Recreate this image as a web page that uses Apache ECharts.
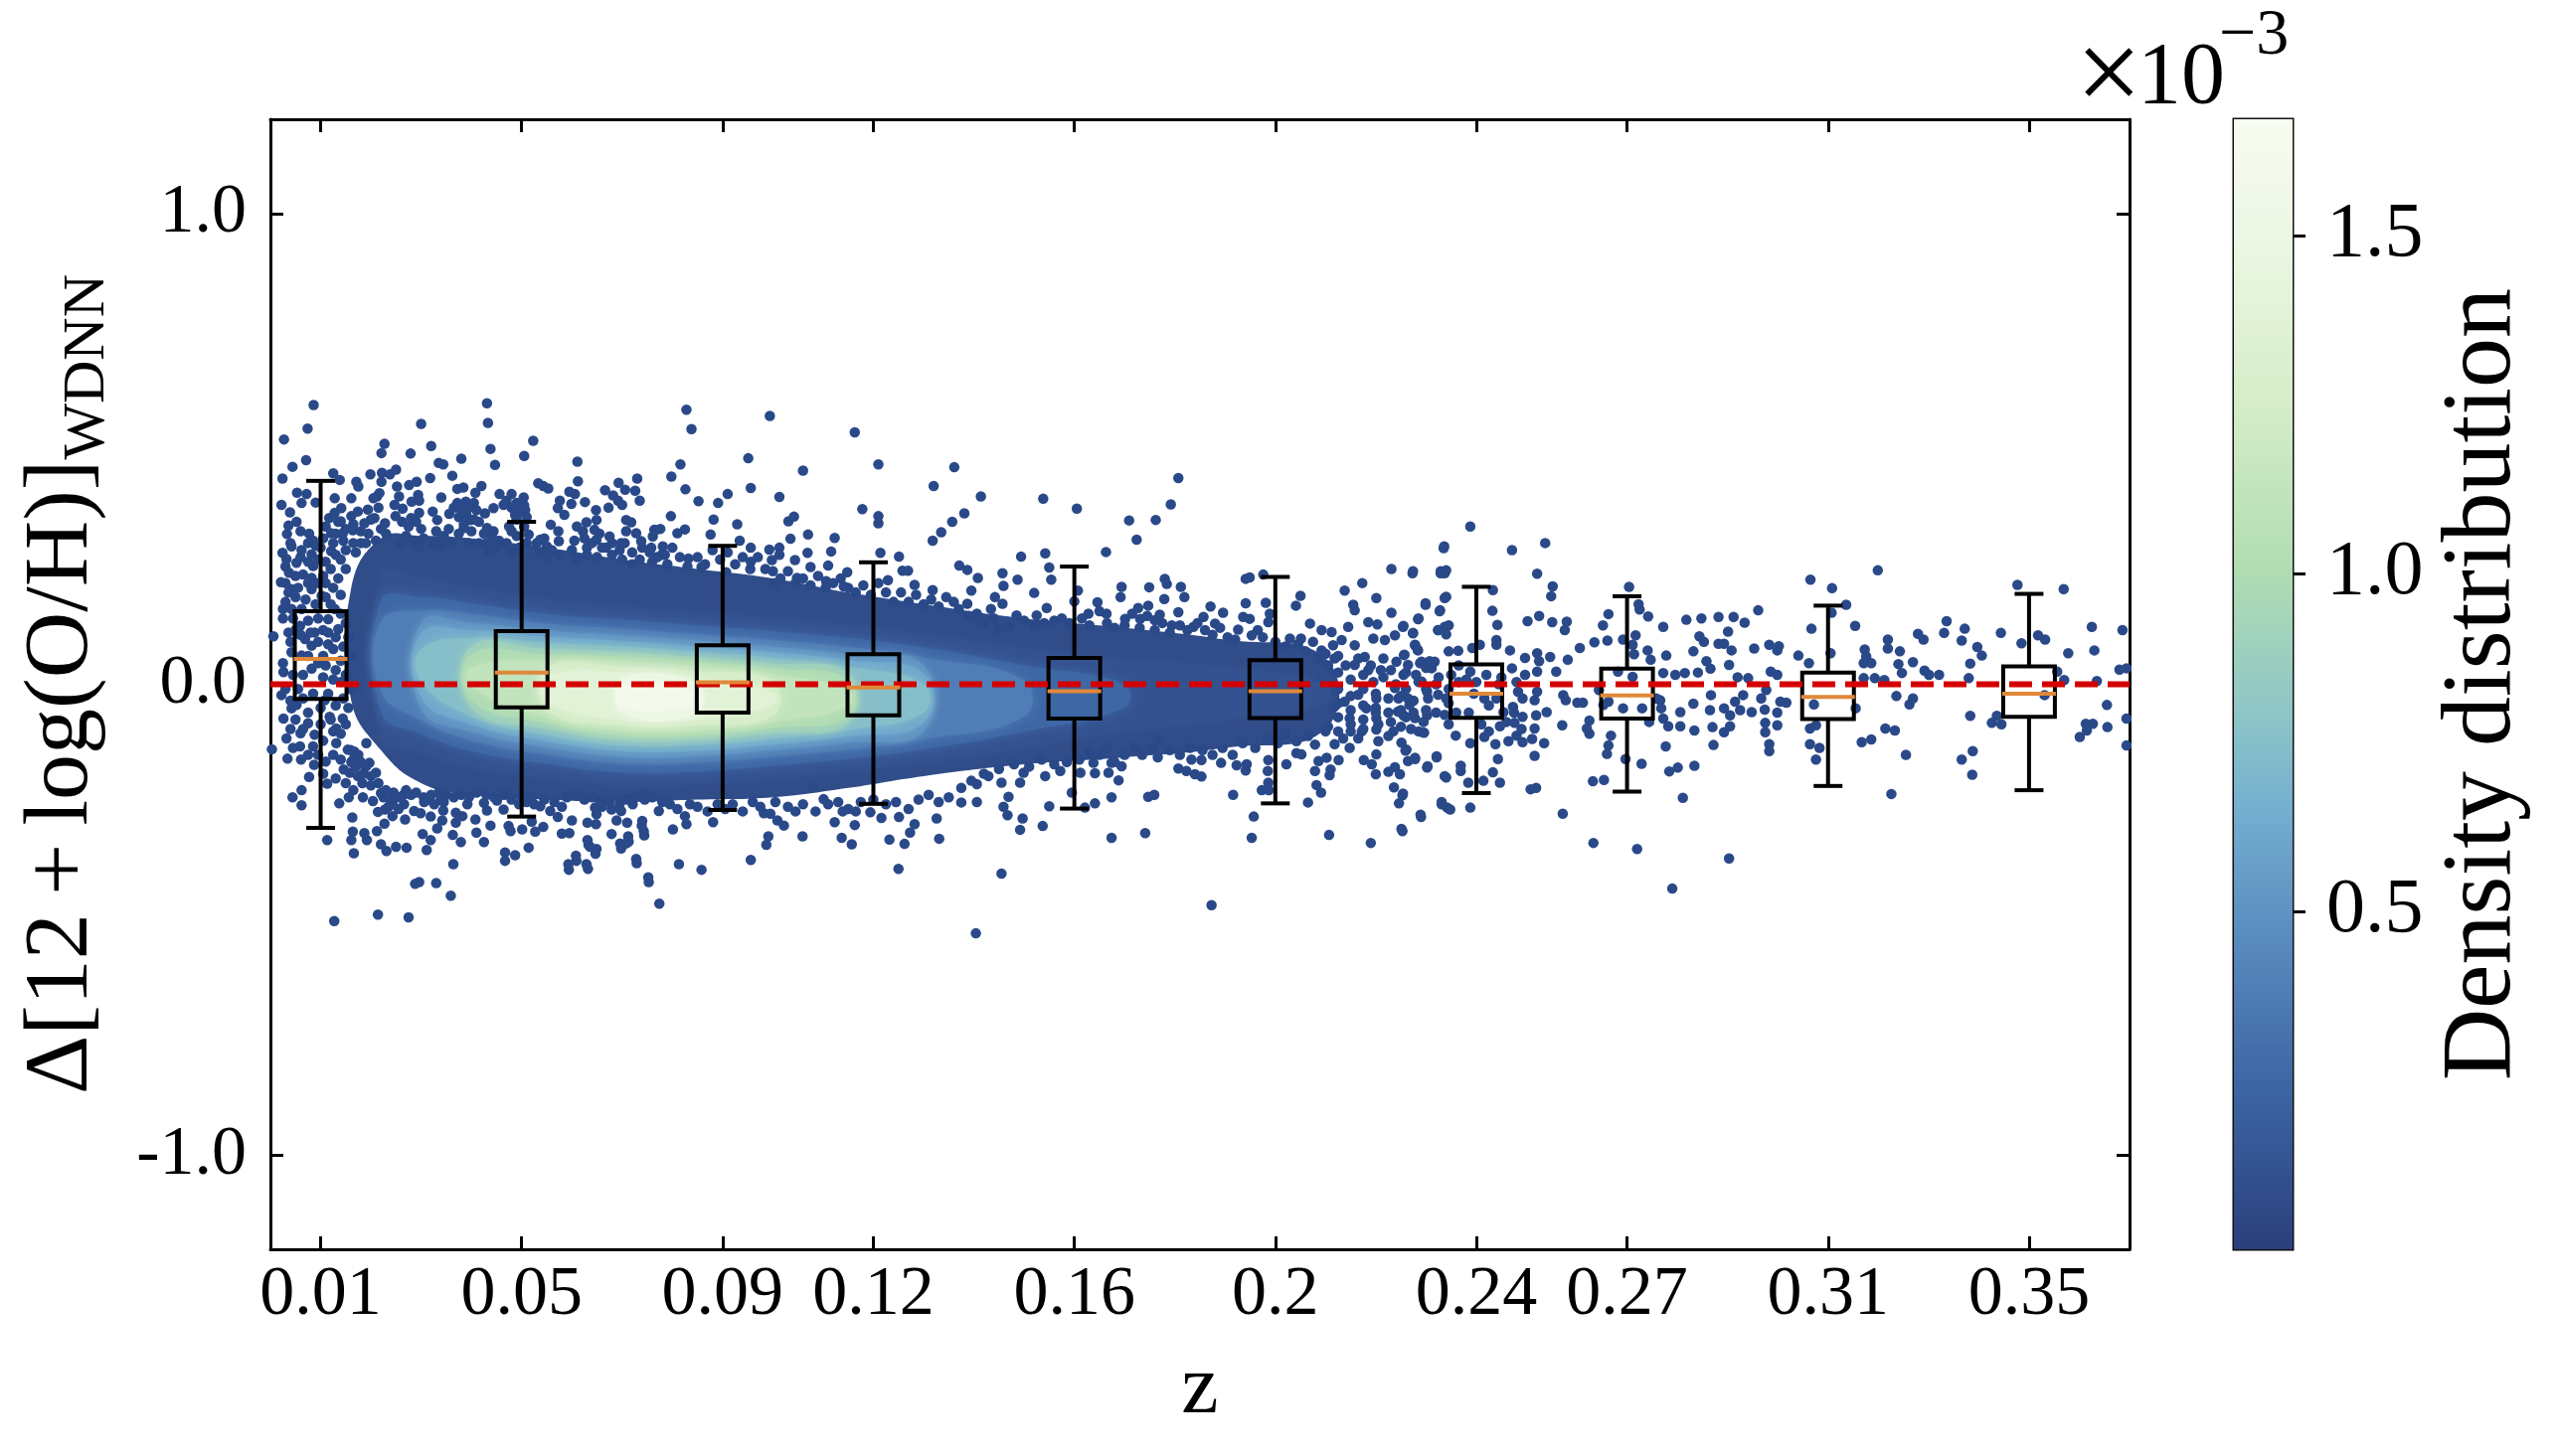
<!DOCTYPE html>
<html><head><meta charset="utf-8">
<style>html,body{margin:0;padding:0;background:#fff}#c{width:2575px;height:1465px}</style>
<script src="https://cdn.jsdelivr.net/npm/echarts@6/dist/echarts.min.js"></script>
</head><body><div id="c"></div>
<script>
const zTicks=[0.01,0.05,0.09,0.12,0.16,0.2,0.24,0.27,0.31,0.35];
const deltaTicks=[-1,0,1];
const colorbarTicks=[0.5,1,1.5];
const colorbarMax=1.672;

// box statistics at each redshift tick
const boxZ=zTicks;
const whiskerHigh=[0.432,0.345,0.294,0.259,0.250,0.228,0.207,0.187,0.167,0.192];
const quartile3=[0.155,0.113,0.083,0.064,0.056,0.051,0.042,0.033,0.025,0.038];
const medians=[0.054,0.025,0.004,-0.007,-0.015,-0.015,-0.020,-0.024,-0.027,-0.020];
const quartile1=[-0.031,-0.049,-0.060,-0.066,-0.073,-0.072,-0.071,-0.073,-0.074,-0.069];
const whiskerLow=[-0.305,-0.281,-0.267,-0.254,-0.264,-0.253,-0.231,-0.228,-0.216,-0.225];

// colour scale: density (x 1e-3) and colour
const scaleValues=[0,0.25,0.5,0.65,0.8,1.0,1.25,1.5,1.672];
const scaleColors=['#2a3f7c','#3e67a6','#5f92c2','#74afd0','#8fc6c6','#b0dcb3','#d5edc8','#edf7e5','#f7fcf0'];

// outer edge of the solid density cloud
const edgeZ=[0.016,0.022,0.03,0.04,0.055,0.07,0.085,0.10,0.115,0.13,0.15,0.17,0.19,0.21];
const edgeTop=[0.20,0.31,0.315,0.31,0.29,0.265,0.245,0.225,0.195,0.17,0.14,0.12,0.095,0.055];
const edgeBottom=[-0.03,-0.14,-0.21,-0.235,-0.245,-0.25,-0.245,-0.24,-0.22,-0.195,-0.17,-0.155,-0.135,-0.095];
const edgeDensity=0.08;

// density contours read from the cloud: half-height of each level per column
const contourZ=[0.022,0.03,0.04,0.055,0.07,0.085,0.10,0.115,0.13,0.15,0.17,0.19,0.21];
const contourCentre=[0.06,0.04,0.015,-0.01,-0.025,-0.03,-0.03,-0.03,-0.03,-0.03,-0.025,-0.02,-0.02];
const contourLevels=[0.12,0.25,0.38,0.5,0.62,0.75,0.88,1.0,1.12,1.25,1.38,1.5,1.6];
const contourHalf=[
[.169,.185,.191,.19,.19,.182,.171,.155,.137,.106,.076,.056,.02],
[.118,.145,.157,.159,.162,.155,.143,.128,.108,.07,.024,null,null],
[.074,.116,.134,.139,.143,.136,.124,.109,.087,.038,null,null,null],
[null,.092,.116,.124,.129,.123,.11,.094,.07,null,null,null,null],
[null,.068,.1,.111,.117,.111,.098,.081,.052,null,null,null,null],
[null,.034,.083,.098,.105,.099,.086,.067,.03,null,null,null,null],
[null,null,.066,.085,.094,.088,.074,.053,null,null,null,null,null],
[null,null,.048,.073,.084,.079,.063,.039,null,null,null,null,null],
[null,null,.02,.061,.074,.069,.051,.017,null,null,null,null,null],
[null,null,null,.046,.063,.058,.037,null,null,null,null,null,null],
[null,null,null,.027,.051,.045,.013,null,null,null,null,null,null],
[null,null,null,null,.038,.031,null,null,null,null,null,null,null],
[null,null,null,null,.024,.013,null,null,null,null,null,null,null]];

// individual points: z,delta,z,delta,...
const dotsLeftUpper=[.0086,.593,.0074,.543,.0027,.520,.0071,.476,.0044,.462,.0024,.437,.0053,.407,.0072,.404,.0062,.385,.0022,.381,.0039,.365,.009,.386,.0125,.448,.0138,.434,.0171,.430,.0175,.420,.0199,.446,.0227,.511,.0221,.491,.0222,.449,.0221,.430,.0238,.446,.025,.456,.0279,.490,.030,.553,.032,.506,.0335,.470,.0344,.467,.038,.479,.0318,.438,.0362,.443,.0431,.597,.0433,.555,.0438,.500,.0447,.466,.0523,.517,.0505,.485,.0611,.473,.0612,.431,.073,.437,.0693,.428,.0533,.427,.0543,.421,.0553,.416,.042,.421,.0372,.415,.0384,.418,.034,.397,.0276,.423,.0291,.430,.0252,.420,.0217,.406,.0256,.399,.0294,.402,.0281,.388,.0296,.390,.0456,.404,.048,.404,.0504,.397,.0408,.407,.0595,.409,.0606,.404,.0576,.390,.0626,.387,.0599,.383,.0666,.412,.0706,.413,.0726,.411,.0735,.390,.0682,.401,.0692,.390,.0700,.381,.0673,.375,.0648,.370,.0572,.374,.0585,.360,.0649,.349,.0629,.344,.0558,.339,.0573,.325,.0574,.304,.0507,.370,.0487,.360,.0464,.381,.0444,.374,.0427,.363,.0405,.385,.0389,.388,.0372,.385,.0323,.367,.0356,.362,.0263,.373,.0249,.357,.0247,.381,.0212,.399,.0194,.371,.0174,.367,.0161,.395,.0141,.374,.0128,.395,.0128,.364,.0117,.353,.0140,.346,.0161,.357,.0187,.342,.0207,.353,.0228,.342,.0052,.345,.0036,.337,.0033,.319,.006,.325,.0077,.320,.0042,.293,.0062,.285,.0024,.279,.0032,.266,.0052,.258,.0082,.276,.0085,.251,.0037,.237,.0065,.233,.0082,.226,.0021,.217,.0042,.202,.0121,.283,.0121,.321,.0144,.321,.0164,.327,.011,.335,.0296,.364,.028,.353,.0332,.349,.0385,.332,.0398,.349,.0431,.332,.0444,.325,.048,.325,.0514,.318,.0537,.307,.055,.293,.0622,.325,.0645,.328,.0649,.307,.063,.290,.0675,.314,.0668,.290,.0698,.300,.0708,.349,.0718,.344,.0708,.325,.0728,.321,.0738,.304,.0764,.328,.0776,.330,.0761,.314,.0758,.290,.0781,.293,.0036,.195,.0042,.160,.0062,.160,.0082,.202,.0059,.124,.0036,.110,.0006,.102,.0069,.096,.0088,.110,.0062,.061,.0042,.068,.0102,.188,.0082,.082,.0128,.160,.0115,.138,.0135,.117,.0026,.026,.0065,.020,.0082,.033,.0110,.040,.0125,.010,.0055,-.01,.0085,-.02,.0115,-.02,.0030,-.01];
const dotsLeftLower=[.0127,-.503,.0214,-.489,.0275,-.495,.0288,-.424,.0296,-.42,.033,-.422,.0359,-.449,.0364,-.382,.0467,-.357,.0467,-.375,.0487,-.363,.0514,-.347,.0593,-.382,.0608,-.364,.0629,-.382,.0649,-.350,.0636,-.345,.0631,-.331,.0728,-.371,.0752,-.41,.0774,-.466,.0696,-.338,.0708,-.338,.0712,-.323,.0679,-.318,.0743,-.312,.0740,-.290,.0580,-.317,.0595,-.316,.0600,-.289,.0631,-.294,.0648,-.297,.0689,-.289,.0710,-.294,.0572,-.282,.0557,-.269,.0543,-.303,.0527,-.313,.0520,-.292,.0501,-.308,.0474,-.301,.0478,-.312,.0438,-.300,.0410,-.315,.0408,-.287,.0425,-.335,.0379,-.335,.0363,-.320,.0369,-.294,.0382,-.280,.0369,-.273,.0342,-.289,.0332,-.306,.0319,-.281,.0319,-.331,.0303,-.318,.0311,-.352,.0344,-.268,.0268,-.287,.0286,-.269,.0299,-.274,.0250,-.345,.0271,-.347,.0231,-.354,.0220,-.340,.0212,-.312,.0227,-.296,.0243,-.280,.0166,-.359,.0161,-.331,.0192,-.331,.0187,-.316,.0164,-.313,.0163,-.283,.0113,-.331,.0137,-.253,.0156,-.240,.0113,-.211,.0062,-.257,.0044,-.240,.0062,-.225,.0077,-.197,.0034,-.158,.0061,-.160,.011,-.164,.0087,-.171,.0146,-.181,.0161,-.165,.0158,-.188,.0174,-.195,.0183,-.210,.0184,-.240,.0204,-.248,.0220,-.231,.0214,-.271,.0228,-.266,.0243,-.255,.0266,-.255,.0306,-.250,.0326,-.255,.0339,-.245,.0392,-.255,.0425,-.252,.0431,-.268,.0451,-.247,.0464,-.266,.0537,-.259,.0656,-.247,.0679,-.266,.0698,-.269,.0721,-.255,.0646,-.262,.0649,-.276,.0773,-.269,.0741,-.233,.0022,-.023,.0042,-.051,.0026,-.073,.0032,-.115,.0060,-.104,.0059,-.132,.0085,-.132,.0075,-.083,.0088,-.107,.0052,-.044,.0003,-.138,.0108,-.034,.0118,-.069,.0131,-.094,.0131,-.125,.0144,-.073,.0154,-.139,.0167,-.143,.0191,-.125,.0197,-.167,.0210,-.188];
const dotsMidUpper=[.0828,.583,.0838,.542,.0994,.570,.1163,.535,.1210,.467,.1060,.454,.0951,.480,.0816,.467,.0798,.441,.0826,.414,.0852,.389,.0891,.385,.0910,.404,.0956,.417,.1013,.398,.0882,.350,.0929,.340,.0876,.318,.0797,.357,.0825,.329,.0810,.321,.0766,.327,.0934,.305,.0956,.290,.1031,.346,.1042,.356,.1035,.309,.1070,.318,.1123,.311,.1116,.282,.1178,.372,.1210,.357,.1210,.342,.1214,.279,.1251,.271,.1320,.421,.1318,.305,.1335,.323,.1069,.279,.1044,.264,.1075,.249,.0993,.286,.1013,.290,.0998,.264,.1013,.275,.1110,.252,.1148,.238,.1229,.221,.1258,.241,.1269,.241,.1282,.211,.1318,.200,.1048,.226,.1002,.215,.1106,.219,.1141,.208,.0956,.260,.0907,.238,.0858,.249,.0832,.267,.0779,.275];
const dotsMidLower=[.1250,-.392,.0858,-.394,.0956,-.373,.0813,-.382,.0753,-.420,.0729,-.380,.0987,-.341,.0991,-.323,.1059,-.323,.1137,-.326,.1157,-.340,.1232,-.330,.1262,-.339,.1331,-.328,.1326,-.285,.1273,-.315,.1251,-.282,.1282,-.297,.1165,-.270,.1194,-.272,.1216,-.284,.1139,-.270,.1123,-.293,.1163,-.299,.1079,-.218,.1101,-.244,.1022,-.300,.1009,-.289,.0982,-.274,.0881,-.293,.0828,-.297,.0801,-.308,.0744,-.321,.0739,-.300,.0713,-.334,.0698,-.349,.0647,-.360,.0633,-.341,.0609,-.375,.0594,-.394,.0632,-.392];
const dotsRightUpper=[.1361,.461,.1414,.399,.1381,.363,.1357,.345,.1538,.394,.1605,.373,.1807,.438,.1792,.382,.1762,.349,.1709,.348,.1724,.307,.1663,.281,.1542,.278,.1494,.271,.1550,.248,.1554,.222,.1371,.252,.1387,.243,.1408,.226,.1457,.236,.1487,.222,.1459,.209,.1520,.194,.1395,.199,.1442,.185,.1457,.171,.1434,.160,.1387,.171,.1406,.150,.1409,.136,.1485,.146,.1525,.146,.1545,.162,.1449,.117,.1607,.199,.1600,.176,.1646,.174,.1694,.207,.1692,.185,.1749,.206,.1780,.224,.1784,.213,.1812,.207,.1819,.185,.1779,.181,.1747,.167,.1727,.162,.1807,.153,.1770,.148,.1628,.150,.1664,.150,.1701,.139,.1731,.139,.1760,.136,.1794,.125,.1857,.143,.1871,.165,.1896,.152,.1880,.129,.1837,.122,.1926,.116,.1936,.143,.1941,.224,.1949,.227,.1976,.233,.1941,.172,.1981,.173,.1989,.150,.1986,.132,.2041,.167,.2050,.188,.1949,.139,.1953,.104,.2029,.097,.2051,.097,.2069,.129,.2092,.115,.2112,.111,.2138,.199,.2173,.215,.2201,.183,.2231,.245,.2273,.236,.2329,.236,.2337,.236,.2335,.289,.2299,.169,.2337,.183,.2327,.155,.2284,.138,.2231,.152,.2254,.122,.2155,.169,.2158,.157,.2185,.132,.2203,.127,.2145,.122,.2324,.115,.2274,.108,.2238,.104,.2195,.097,.2218,.094,.2132,.094,.2115,.083,.2158,.083,.2278,.083,.2284,.072,.2178,.058,.2215,.055,.2241,.048,.2256,.062,.2118,.055,.2085,.055,.2092,.072,.2337,.122,.2317,.048,.2291,.048];
const dotsRightLower=[.1404,-.529,.1455,-.402,.1873,-.469,.1674,-.326,.1741,-.316,.1492,-.309,.1537,-.301,.1497,-.285,.1467,-.278,.1459,-.260,.1469,-.239,.1550,-.259,.1375,-.251,.1406,-.250,.1406,-.212,.1455,-.209,.1492,-.209,.1499,-.188,.1429,-.195,.1542,-.195,.1572,-.184,.1621,-.262,.1641,-.253,.1674,-.240,.1747,-.239,.1759,-.235,.1595,-.230,.1688,-.204,.1612,-.188,.1641,-.189,.1668,-.188,.1638,-.167,.1674,-.167,.1694,-.174,.1766,-.155,.1807,-.179,.1823,-.184,.1840,-.191,.1853,-.196,.1833,-.160,.1853,-.161,.1892,-.167,.1923,-.172,.1943,-.170,.1941,-.183,.1916,-.235,.1957,-.281,.1953,-.326,.1986,-.161,.1985,-.184,.1986,-.209,.1973,-.225,.1987,-.225,.2022,-.170,.2065,-.251,.2042,-.146,.2052,-.149,.2082,-.214,.2091,-.230,.2107,-.320,.2190,-.337,.2251,-.307,.2289,-.277,.2246,-.253,.2236,-.219,.2254,-.232,.2331,-.250,.2342,-.262,.2337,-.195,.2303,-.174,.2321,-.153,.2278,-.156,.2264,-.163,.2248,-.191,.2225,-.186,.2238,-.176,.2200,-.191,.2192,-.170,.2201,-.149,.2176,-.161,.2126,-.161,.2110,-.181,.2108,-.193,.2079,-.184,.2086,-.163,.2102,-.156,.2148,-.135,.2118,-.127,.2261,-.139,.2296,-.103,.2251,-.124,.2205,-.121,.2201,-.096,.2172,-.100,.2079,-.128,.2042,-.121,.2085,.006,.2105,-.022,.2118,-.047,.2138,-.037,.2148,-.072,.2165,-.022,.2181,-.051,.2201,-.030,.2201,-.072,.2238,-.008,.2244,-.058,.2267,-.044,.2278,-.072,.2304,-.030,.2324,-.022,.2337,-.065,.2311,.034,.2291,.006,.2264,.041,.2185,.030,.2158,.041];
const dotsTailUpper=[.2388,.335,.2336,.293,.2471,.285,.2537,.300,.2274,.240,.2329,.240,.2340,.242,.2521,.235,.2552,.208,.2549,.187,.2433,.200,.2340,.186,.2299,.172,.2328,.157,.2432,.156,.2285,.140,.2255,.124,.2345,.125,.2324,.115,.2340,.106,.2442,.126,.2274,.109,.2502,.134,.2525,.145,.2551,.132,.2580,.133,.2576,.115,.2440,.094,.2440,.084,.2278,.084,.2283,.074,.2467,.072,.2345,.070,.2364,.071,.2392,.077,.2407,.084,.2257,.063,.2307,.049,.2288,.045,.2497,.056,.2521,.066,.2547,.058,.2525,.049,.2582,.052,.2471,.034,.2497,.020,.2521,.027,.2559,.027,.2606,.077,.2635,.089,.2661,.093,.2692,.095,.2711,.084,.2704,.207,.2663,.149,.2652,.125,.2723,.170,.2725,.159,.2742,.144,.2717,.104,.2714,.064,.2741,.072,.2747,.052,.2772,.122,.2778,.061,.2818,.137,.2848,.140,.2882,.143,.2912,.143,.2934,.131,.2961,.157,.2844,.102,.2853,.090,.2832,.070,.2858,.049,.2866,.033,.2841,.025,.2815,.024,.2796,.020,.2772,.024,.2901,.112,.2882,.086,.2893,.086,.2908,.072,.2903,.041,.2920,.015,.2941,.013,.2953,.076,.2983,.084,.3002,.081,.2999,.072,.2986,.027,.2999,.020,.3041,.061,.3062,.045,.3065,.222,.3108,.204,.3136,.169,.3107,.152,.3067,.118,.3154,.124,.3105,.066,.3199,.242,.3219,.095,.3219,.076,.3243,.070,.3173,.074,.3176,.059,.3171,.045,.3186,.045,.3269,.047,.3240,.043,.3247,.024,.3212,.009,.3171,.013,.3193,.013,.3279,.107,.3290,.095,.3292,.029,.3301,.020,.3321,.020,.3336,.134,.3331,.109,.3366,.093,.3372,.118,.3397,.079,.3406,.061,.3383,.044,.3380,.013,.3444,.109,.3485,.087,.3477,.211,.3569,.202,.3518,.104,.3532,.095,.3578,.066,.3556,.027,.3570,.009,.3625,.122,.3630,.072,.3686,.115,.3680,.031,.3694,.034,.3635,.007];
const dotsTailLower=[.2790,-.434,.2903,-.370,.2720,-.350,.2633,-.337,.2572,-.275,.3226,-.233,.2811,-.241,.2632,-.206,.2654,-.203,.2784,-.185,.2801,-.177,.2834,-.173,.2508,-.223,.2519,-.220,.2447,-.209,.2414,-.205,.2433,-.187,.2384,-.209,.2388,-.262,.2348,-.266,.2331,-.255,.2290,-.282,.2253,-.312,.2253,-.236,.2340,-.198,.2369,-.173,.2369,-.184,.2302,-.177,.2321,-.155,.2278,-.159,.2259,-.141,.2443,-.159,.2516,-.152,.2438,-.127,.2416,-.112,.2388,-.125,.2359,-.109,.2293,-.102,.2464,-.121,.2492,-.123,.2511,-.116,.2480,-.109,.2535,-.125,.2516,-.094,.2571,-.087,.2476,-.082,.2447,-.089,.2492,-.069,.2519,-.066,.2540,-.059,.2516,-.034,.2573,-.023,.2578,-.034,.2601,-.039,.2612,-.039,.2492,-.030,.2473,-.048,.2625,-.077,.2625,-.105,.2620,-.094,.2668,-.109,.2663,-.130,.2660,-.148,.2697,-.159,.2729,-.169,.2777,-.132,.2872,-.129,.2782,-.089,.2806,-.089,.2834,-.098,.2870,-.091,.2893,-.102,.2905,-.089,.2983,-.142,.2983,-.127,.2975,-.102,.2999,-.087,.2975,-.082,.2925,-.055,.2948,-.059,.2974,-.054,.2999,-.060,.2806,-.059,.2832,-.041,.2865,-.055,.2893,-.051,.2905,-.066,.2915,-.037,.2931,-.023,.2867,-.023,.2967,-.030,.2977,-.012,.3005,-.037,.3017,-.039,.2766,-.034,.2768,-.051,.2744,-.080,.2772,-.073,.3064,-.094,.3076,-.087,.3064,-.127,.3083,-.135,.3076,-.160,.3167,-.123,.3186,-.117,.3214,-.094,.3233,-.098,.3255,-.150,.3366,-.160,.3388,-.142,.3387,-.192,.3236,-.025,.3262,-.043,.3269,-.030,.3155,-.051,.3072,-.043,.3383,-.067,.3426,-.082,.3445,-.085,.3436,-.067,.3531,-.023,.3601,-.112,.3613,-.084,.3627,-.084,.3615,-.098,.3655,-.044,.3656,-.091,.3694,-.073,.3694,-.130,.2264,-.030,.2302,-.016,.2255,-.066,.2302,-.066,.2340,-.030,.2255,.020,.2388,.027,.2416,-.030,.2454,-.059,.2483,-.016,.2521,-.016,.2245,-.030,.2644,-.012,.2663,-.037,.2692,-.051,.2730,-.051,.2758,-.030,.2711,.016,.2682,.027,.2653,-.044];
const dotsBeltUpper=[.0205,.395,.0215,.375,.0200,.350,.0220,.330,.0195,.320,.0210,.305,.0230,.320,.0190,.300,.0262,.345,.0275,.335,.0290,.345,.0300,.330,.0270,.315,.0285,.305,.0305,.310,.0260,.300,.0295,.290,.0330,.325,.0345,.315,.0355,.330,.0340,.295,.0325,.300,.0360,.300,.0365,.375,.0380,.370,.0395,.375,.0410,.370,.0375,.355,.0390,.360,.0405,.350,.0385,.340,.0400,.325,.0415,.345,.0375,.320,.0395,.300,.0415,.300,.0425,.320,.0440,.315,.0455,.305,.0430,.300,.0450,.290,.0435,.285,.0470,.390,.0490,.385,.0505,.380,.0480,.375,.0495,.365,.0510,.355,.0490,.350,.0475,.335,.0505,.335,.0490,.315,.0470,.300,.0510,.300,.0495,.290,.0480,.280,.0530,.300,.0545,.310,.0560,.285,.0535,.280,.0575,.275,.0550,.270,.0610,.335,.0625,.310,.0605,.305,.0640,.300,.0655,.320,.0600,.285,.0630,.275,.0660,.290,.0650,.270,.0610,.265,.0680,.300,.0695,.285,.0680,.275,.0705,.300,.0720,.280,.0740,.290,.0755,.280,.0700,.265,.0735,.265,.0770,.270,.0785,.275,.0760,.260,.0790,.255,.0720,.255,.0135,.345,.0150,.330,.0165,.340,.0130,.320,.0180,.325,.0145,.305,.0165,.300,.0125,.300,.0180,.300,.0150,.285,.0130,.275,.0170,.280,.0110,.260,.0120,.245,.0140,.265,.0105,.230,.0125,.205,.0110,.185,.0135,.225,.0150,.245,.0100,.290,.0030,.250,.0050,.230,.0075,.300,.0090,.295,.0095,.265,.0075,.260,.0030,.175,.0050,.185,.0070,.180,.0090,.170,.0095,.140,.0105,.115,.0045,.140,.0075,.135,.0025,.140,.0060,.105,.0095,.090,.0115,.085,.0105,.060,.0125,.075,.0140,.050,.0150,.020,.0130,.030,.0145,.080,.0155,.100,.0150,.130,.0160,.060,.0160,-.010,.0145,-.030,.0130,-.045,.0125,-.100,.0155,-.050,.0800,.290,.0815,.270,.0830,.250,.0850,.270,.0865,.255,.0880,.285,.0895,.265,.0910,.280,.0925,.255,.0940,.270,.0955,.245,.0970,.270,.0985,.245,.1000,.240,.1015,.225,.1030,.240,.1045,.215,.1060,.225,.1075,.210,.1090,.230,.1105,.205,.1120,.215,.1135,.225,.1150,.205,.1165,.195,.1180,.210,.1195,.190,.1210,.215,.1225,.195,.1240,.175,.1255,.195,.1270,.175,.1285,.190,.1300,.170,.1315,.180,.1330,.165,.1345,.185,.1360,.175,.1370,.160,.1390,.145,.1420,.130,.1440,.140,.1470,.125,.1500,.135,.1520,.125,.1540,.130,.1560,.135,.1575,.140,.1590,.130,.1615,.140,.1630,.125,.1650,.155,.1665,.130,.1680,.120,.1700,.125,.1715,.150,.1730,.120,.1745,.145,.1760,.115,.1775,.130,.1790,.110,.1810,.125,.1825,.115,.1845,.130,.1860,.115,.1875,.105,.1890,.120,.1905,.100,.1920,.095,.1965,.115,.1975,.100,.2000,.090,.2020,.080,.2045,.085,.2060,.070,.2075,.090,.2100,.065,.2125,.060,.2140,.040,.2165,.055,.2190,.040,.2210,.030,.2230,.030,.2260,.025,.2280,.020,.2300,.035,.2325,.015,.2350,.020,.2365,.040,.2380,.010,.2420,.020,.2450,.015,.2480,.005];
const dotsBeltLower=[.0160,-.140,.0175,-.150,.0190,-.175,.0165,-.160,.0180,-.165,.0200,-.195,.0170,-.175,.0185,-.190,.0215,-.210,.0200,-.215,.0230,-.225,.0225,-.240,.0245,-.230,.0255,-.240,.0240,-.245,.0270,-.225,.0265,-.235,.0235,-.260,.0255,-.265,.0280,-.235,.0290,-.230,.0305,-.240,.0320,-.235,.0335,-.230,.0350,-.235,.0315,-.245,.0345,-.250,.0365,-.240,.0380,-.235,.0395,-.240,.0410,-.230,.0430,-.235,.0445,-.240,.0465,-.235,.0480,-.245,.0495,-.255,.0510,-.250,.0525,-.255,.0500,-.240,.0520,-.240,.0545,-.245,.0565,-.250,.0580,-.260,.0590,-.240,.0610,-.235,.0625,-.245,.0640,-.240,.0660,-.260,.0675,-.250,.0695,-.255,.0710,-.245,.0725,-.240,.0745,-.245,.0760,-.240,.0780,-.250,.0795,-.255,.0810,-.265,.0825,-.280,.0835,-.255,.0850,-.260,.0870,-.270,.0890,-.255,.0905,-.265,.0920,-.255,.0940,-.270,.0960,-.250,.0975,-.260,.0995,-.275,.1005,-.250,.1030,-.260,.1045,-.270,.1060,-.255,.1085,-.270,.1110,-.255,.1130,-.250,.1150,-.265,.1175,-.250,.1200,-.245,.1225,-.255,.1245,-.250,.1270,-.265,.1290,-.245,.1310,-.235,.1330,-.250,.1350,-.240,.1375,-.220,.1395,-.205,.1420,-.190,.1450,-.180,.1480,-.170,.1510,-.175,.1535,-.160,.1560,-.170,.1585,-.165,.1610,-.160,.1630,-.145,.1650,-.150,.1665,-.135,.1680,-.165,.1700,-.150,.1720,-.135,.1735,-.150,.1755,-.135,.1770,-.120,.1790,-.140,.1810,-.150,.1830,-.135,.1855,-.140,.1875,-.150,.1895,-.135,.1915,-.150,.1935,-.125,.1960,-.135,.1985,-.115,.2005,-.125,.2020,-.105,.2065,-.110,.2100,-.100,.2125,-.100,.2150,-.100,.2175,-.075,.2200,-.060,.2225,-.110,.2250,-.090,.2270,-.095,.2295,-.080,.2320,-.060,.2345,-.085,.2360,-.060,.2385,-.060,.2410,-.085,.2425,-.100,.2460,-.080,.2490,-.095,.2345,-.010,.2400,.005,.2440,-.030];
const dotsTip=[.2105,.040,.2125,.025,.2150,.010,.2175,.020,.2195,.005,.2215,.015,.2240,.000,.2260,-.010,.2285,.005,.2125,-.010,.2150,-.025,.2175,-.010,.2200,-.020,.2225,-.030,.2250,-.025,.2275,-.035,.2300,-.010,.2320,.000,.2125,-.040,.2150,-.055,.2175,-.045,.2200,-.050,.2225,-.060,.2250,-.055,.2275,-.060,.2300,-.055,.2125,-.070,.2150,-.085,.2175,-.095,.2205,-.085,.2230,-.080,.2260,-.070,.2105,-.090,.2135,-.115,.2165,-.115,.2235,-.100,.2285,-.100,.2345,-.040,.2365,.005,.2395,-.020,.2425,-.045,.2445,.000,.2475,-.060];
const dotsNearAxis=[.0040,.300,.0060,.270,.0085,.305,.0105,.310,.0110,.215,.0095,.215,.0075,.215,.0055,.205,.0030,.215,.0120,.170,.0140,.150,.0140,.190,.0025,.160,.0050,.115,.0080,.110,.0115,.110,.0130,.100,.0040,.090,.0075,.060,.0095,.045,.0025,.045,.0045,.020,.0105,.015,.0140,.005,.0040,-.035,.0065,-.030,.0100,-.050,.0075,-.060,.0050,-.075,.0100,-.085,.0120,-.075,.0065,-.095,.0040,-.095,.0105,-.120,.0140,-.105,.0150,-.085,.0045,-.135,.0075,-.150,.0095,-.150,.0125,-.150,.0140,-.160,.0105,-.190,.0130,-.200,.0150,-.210,.0165,-.225];

const SERIF='"Liberation Serif","Times New Roman",serif';
const BLACK='#000';

function pairs(a){const r=[];for(let i=0;i<a.length;i+=2)r.push([a[i],a[i+1]]);return r;}
const allDots=[dotsLeftUpper,dotsLeftLower,dotsMidUpper,dotsMidLower,dotsRightUpper,dotsRightLower,dotsTailUpper,dotsTailLower,dotsBeltUpper,dotsBeltLower,dotsTip,dotsNearAxis].flatMap(pairs);

function hex(c){return [1,3,5].map(i=>parseInt(c.substr(i,2),16));}
function colorAt(v){
  let i=0;while(i<scaleValues.length-2&&v>scaleValues[i+1])i++;
  const t=Math.min(1,Math.max(0,(v-scaleValues[i])/(scaleValues[i+1]-scaleValues[i])));
  const a=hex(scaleColors[i]),b=hex(scaleColors[i+1]);
  return 'rgb('+a.map((x,k)=>Math.round(x+(b[k]-x)*t)).join(',')+')';
}
const cbStops=scaleValues.map((v,i)=>({offset:1-v/colorbarMax,color:scaleColors[i]})).reverse();

const chart=echarts.init(document.getElementById('c'),null,{renderer:'canvas'});

const contours=contourLevels.map((lv,i)=>{
  const z=[],top=[],bot=[];
  contourHalf[i].forEach((h,k)=>{if(h!==null){z.push(contourZ[k]);top.push(contourCentre[k]+h);bot.push(contourCentre[k]-h);}});
  return {v:lv,z,top,bot};
});
const edgeContour={v:edgeDensity,z:edgeZ,top:edgeTop,bot:edgeBottom};
function contourShape(api,c){
  const pts=[];
  c.z.forEach((z,k)=>pts.push(api.coord([z,c.top[k]])));
  for(let k=c.z.length-1;k>=0;k--)pts.push(api.coord([c.z[k],c.bot[k]]));
  return {points:pts,smooth:0.45};
}

function tickAxis(extra){return Object.assign({type:'value',gridIndex:0,scale:false,splitLine:{show:false},
  axisLine:{show:true,onZero:false,lineStyle:{color:BLACK,width:3}}},extra);}

chart.setOption({
  animation:false,
  backgroundColor:'#fff',
  grid:[
    {left:272,top:120,width:1870,height:1137,show:false,outerBoundsMode:'none'},
    {left:2247,top:120,width:59,height:1137,show:true,borderColor:'#111',borderWidth:3,backgroundColor:'transparent',outerBoundsMode:'none'}
  ],
  xAxis:[
    tickAxis({min:0,max:0.37,position:'bottom',name:'z',nameLocation:'middle',nameGap:100,
      nameTextStyle:{fontFamily:SERIF,fontSize:84,color:BLACK},
      axisTick:{show:true,inside:true,length:13,customValues:zTicks,lineStyle:{color:BLACK,width:3}},
      axisLabel:{show:true,customValues:zTicks,margin:12,fontFamily:SERIF,fontSize:70,color:BLACK,formatter:v=>String(+v.toFixed(2))}}),
    tickAxis({min:0,max:0.37,position:'top',
      axisTick:{show:true,inside:true,length:13,customValues:zTicks,lineStyle:{color:BLACK,width:3}},
      axisLabel:{show:false}}),
    {type:'category',gridIndex:1,data:['density'],axisLine:{show:false},axisTick:{show:false},axisLabel:{show:false}}
  ],
  yAxis:[
    tickAxis({min:-1.2,max:1.2,position:'left',
      name:'{m|Δ[12\u2009+\u2009log(O/H)]}{s|WDNN}',nameLocation:'middle',nameRotate:90,nameGap:154,
      nameTextStyle:{fontFamily:SERIF,color:BLACK,rich:{
        m:{fontFamily:SERIF,fontSize:92,color:BLACK,lineHeight:110},
        s:{fontFamily:SERIF,fontSize:60,color:BLACK,verticalAlign:'bottom',lineHeight:80,padding:[0,0,0,0]}}},
      axisTick:{show:true,inside:true,length:13,customValues:deltaTicks,lineStyle:{color:BLACK,width:3}},
      axisLabel:{show:true,customValues:deltaTicks,margin:24,fontFamily:SERIF,fontSize:70,color:BLACK,formatter:v=>v.toFixed(1)}}),
    tickAxis({min:-1.2,max:1.2,position:'right',
      axisTick:{show:true,inside:true,length:13,customValues:deltaTicks,lineStyle:{color:BLACK,width:3}},
      axisLabel:{show:false}}),
    {type:'value',gridIndex:1,min:0,max:colorbarMax,position:'right',splitLine:{show:false},
      name:'Density distribution',nameLocation:'middle',nameRotate:90,nameGap:142,
      nameTextStyle:{fontFamily:SERIF,fontSize:100,color:BLACK},
      axisLine:{show:false},
      axisTick:{show:true,inside:false,length:13,customValues:colorbarTicks,lineStyle:{color:BLACK,width:3}},
      axisLabel:{show:true,customValues:colorbarTicks,margin:34,fontFamily:SERIF,fontSize:78,color:BLACK,formatter:v=>v.toFixed(1)}}
  ],
  graphic:[
    {type:'text',x:2088,y:22,z:10,style:{text:'×',font:'118px '+SERIF,fill:BLACK}},
    {type:'text',x:2150,y:36,z:10,style:{text:'10',font:'88px '+SERIF,fill:BLACK}},
    {type:'text',x:2232,y:4,z:10,style:{text:'−3',font:'66px '+SERIF,fill:BLACK}}
  ],
  series:[
    {type:'custom',name:'density edge',xAxisIndex:0,yAxisIndex:0,data:[[edgeDensity]],z:1,silent:true,clip:true,
     encode:{x:-1,y:-1},
     renderItem:function(params,api){
       return {type:'polygon',shape:contourShape(api,edgeContour),style:{fill:colorAt(edgeDensity)}};
     }},
    {type:'scatter',name:'points',xAxisIndex:0,yAxisIndex:0,data:allDots,symbolSize:10.5,clip:true,
     itemStyle:{color:'#2a4989',opacity:1},z:2,silent:true,large:false},
    {type:'custom',name:'density',xAxisIndex:0,yAxisIndex:0,data:contours.map(c=>[c.v]),z:3,silent:true,clip:true,
     encode:{x:-1,y:-1},
     renderItem:function(params,api){
       const c=contours[params.dataIndex];
       const col=colorAt(c.v);
       return {type:'polygon',shape:contourShape(api,c),style:{fill:col,shadowBlur:10,shadowColor:col}};
     }},
    {type:'custom',name:'boxes',xAxisIndex:0,yAxisIndex:0,z:5,silent:true,
     data:boxZ.map((z,i)=>[z,whiskerLow[i],quartile1[i],medians[i],quartile3[i],whiskerHigh[i]]),
     encode:{x:0,y:[1,2,3,4,5]},
     renderItem:function(params,api){
       const z=api.value(0);
       const lo=api.coord([z,api.value(1)]),q1=api.coord([z,api.value(2)]),q3=api.coord([z,api.value(4)]),hi=api.coord([z,api.value(5)]);
       const x=lo[0],bw=26,cw=14.5;
       const ls={stroke:BLACK,lineWidth:4,fill:null};
       return {type:'group',children:[
         {type:'line',shape:{x1:x,y1:lo[1],x2:x,y2:q1[1]},style:ls},
         {type:'line',shape:{x1:x,y1:q3[1],x2:x,y2:hi[1]},style:ls},
         {type:'line',shape:{x1:x-cw,y1:lo[1],x2:x+cw,y2:lo[1]},style:ls},
         {type:'line',shape:{x1:x-cw,y1:hi[1],x2:x+cw,y2:hi[1]},style:ls},
         {type:'rect',shape:{x:x-bw,y:q3[1],width:2*bw,height:q1[1]-q3[1]},style:{stroke:BLACK,lineWidth:4,fill:'none'}}
       ]};
     }},
    {type:'line',name:'zero',xAxisIndex:0,yAxisIndex:0,z:6,silent:true,symbol:'none',
     data:[[0,0],[0.37,0]],lineStyle:{color:'#d40000',width:6,type:[23,10]}},
    {type:'custom',name:'medians',xAxisIndex:0,yAxisIndex:0,z:7,silent:true,
     data:boxZ.map((z,i)=>[z,medians[i]]),encode:{x:0,y:1},
     renderItem:function(params,api){
       const p=api.coord([api.value(0),api.value(1)]);
       return {type:'line',shape:{x1:p[0]-27,y1:p[1],x2:p[0]+27,y2:p[1]},style:{stroke:'#e0883a',lineWidth:4}};
     }},
    {type:'bar',name:'colorbar',xAxisIndex:2,yAxisIndex:2,data:[colorbarMax],barWidth:'100%',silent:true,z:1,
     itemStyle:{color:new echarts.graphic.LinearGradient(0,0,0,1,cbStops)}}
  ]
});
</script></body></html>
